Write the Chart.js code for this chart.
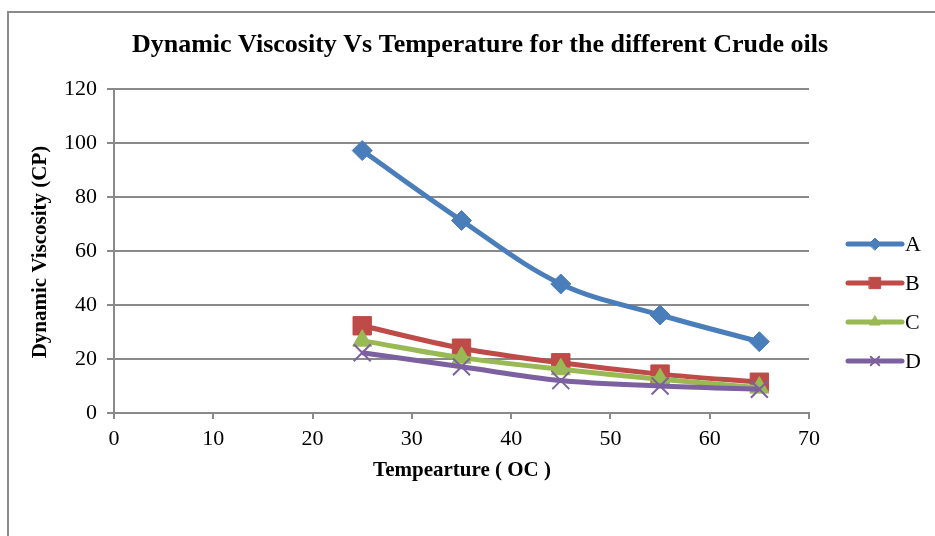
<!DOCTYPE html>
<html>
<head>
<meta charset="utf-8">
<script src="https://cdn.jsdelivr.net/npm/chart.js@4.4.1/dist/chart.umd.min.js"></script>
<style>
  html, body { margin: 0; padding: 0; background: #ffffff; }
  #wrap { width: 935px; height: 536px; position: relative; }
</style>
</head>
<body>
<div id="wrap"><canvas id="c" width="935" height="536"></canvas></div>
<script>
// Temperatures (°C) at which viscosity was measured
const temperatures = [25, 35, 45, 55, 65];

// Dynamic viscosity (cP) per crude oil sample
const oilA = [97.2, 71.3, 47.8, 36.3, 26.4];
const oilB = [32.3, 24.0, 18.6, 14.4, 11.4];
const oilC = [26.8, 20.5, 16.2, 12.5, 9.4];
const oilD = [22.3, 17.1, 12.0, 10.0, 8.8];

const seriesNames = ['A', 'B', 'C', 'D'];
const xTicks = [0, 10, 20, 30, 40, 50, 60, 70];
const yTicks = [0, 20, 40, 60, 80, 100, 120];

const chartTitle = 'Dynamic Viscosity Vs Temperature for the different Crude oils';
const xTitle = 'Tempearture ( OC )';
const yTitle = 'Dynamic Viscosity (CP)';

const SERIF = '"Liberation Serif", "Times New Roman", serif';
const GRID = '#8a8a8a';

const styles = [
  { color: '#4A7EBB', point: 'rectRot',  radius: 10, border: 1, legendRadius: 6 },
  { color: '#BE4B48', point: 'rect',     radius: 13, border: 1, legendRadius: 8 },
  { color: '#98B954', point: 'triangle', radius: 11, border: 1, legendRadius: 6 },
  { color: '#7D60A0', point: 'crossRot', radius: 12, border: 2, legendRadius: 6 }
];

const values = [oilA, oilB, oilC, oilD];

const datasets = values.map((vals, i) => ({
  label: seriesNames[i],
  data: temperatures.map((t, k) => ({ x: t, y: vals[k] })),
  borderColor: styles[i].color,
  backgroundColor: styles[i].color,
  borderWidth: 5,
  pointStyle: styles[i].point,
  pointRadius: styles[i].radius,
  pointBorderWidth: styles[i].border,
  pointBackgroundColor: styles[i].color,
  pointBorderColor: styles[i].color,
  tension: 0.35,
  order: values.length - 1 - i
}));

// Frame, titles and the line-and-marker legend drawn onto the canvas
const decorations = {
  id: 'decorations',
  beforeDraw(chart) {
    const ctx = chart.ctx;
    ctx.save();
    ctx.fillStyle = '#ffffff';
    ctx.fillRect(0, 0, chart.width, chart.height);
    ctx.strokeStyle = '#8a8a8a';
    ctx.lineWidth = 2;
    ctx.strokeRect(8, 12, chart.width + 20, chart.height + 20);
    ctx.restore();
  },
  afterDraw(chart) {
    const ctx = chart.ctx;
    ctx.save();
    ctx.fillStyle = '#000000';
    ctx.textAlign = 'center';
    ctx.textBaseline = 'middle';

    ctx.font = 'bold 26px ' + SERIF;
    ctx.fillText(chartTitle, 480, 45);

    ctx.font = 'bold 21px ' + SERIF;
    ctx.fillText(xTitle, 462, 471);

    ctx.save();
    ctx.translate(41, 252);
    ctx.rotate(-Math.PI / 2);
    ctx.fillText(yTitle, 0, 0);
    ctx.restore();

    // legend
    const x0 = 848, x1 = 902, ys = [244, 283, 322, 361];
    chart.data.datasets.forEach((ds, i) => {
      const y = ys[i];
      ctx.strokeStyle = ds.borderColor;
      ctx.lineWidth = 5;
      ctx.lineCap = 'round';
      ctx.beginPath();
      ctx.moveTo(x0, y);
      ctx.lineTo(x1, y);
      ctx.stroke();
      ctx.fillStyle = ds.borderColor;
      ctx.lineWidth = styles[i].border;
      Chart.helpers.drawPoint(ctx, {
        pointStyle: styles[i].point,
        radius: styles[i].legendRadius,
        rotation: 0,
        borderWidth: styles[i].border
      }, (x0 + x1) / 2, y);
      ctx.fillStyle = '#000000';
      ctx.font = '22px ' + SERIF;
      ctx.textAlign = 'left';
      ctx.fillText(ds.label, 905, y + 1);
    });
    ctx.restore();
  }
};

new Chart(document.getElementById('c'), {
  type: 'line',
  data: { datasets },
  options: {
    responsive: false,
    animation: false,
    devicePixelRatio: 1,
    layout: { padding: { top: 89, right: 126, left: 0, bottom: 0 } },
    plugins: {
      legend: { display: false },
      title: { display: false },
      tooltip: { enabled: false }
    },
    scales: {
      x: {
        type: 'linear',
        min: 0,
        max: 70,
        afterFit(s) { s.height = 123; },
        afterBuildTicks(s) { s.ticks = xTicks.map(v => ({ value: v })); },
        grid: { drawOnChartArea: false, drawTicks: true, tickLength: 6, color: GRID, lineWidth: 2 },
        border: { display: true, color: GRID, width: 2 },
        ticks: { color: '#000', font: { family: SERIF, size: 22 }, padding: 7, maxRotation: 0 }
      },
      y: {
        type: 'linear',
        min: 0,
        max: 120,
        afterFit(s) { s.width = 114; },
        afterBuildTicks(s) { s.ticks = yTicks.map(v => ({ value: v })); },
        grid: { drawOnChartArea: true, drawTicks: true, tickLength: 7, color: GRID, lineWidth: 2 },
        border: { display: true, color: GRID, width: 2 },
        ticks: { color: '#000', font: { family: SERIF, size: 22 }, padding: 10 }
      }
    }
  },
  plugins: [decorations]
});
</script>
</body>
</html>
